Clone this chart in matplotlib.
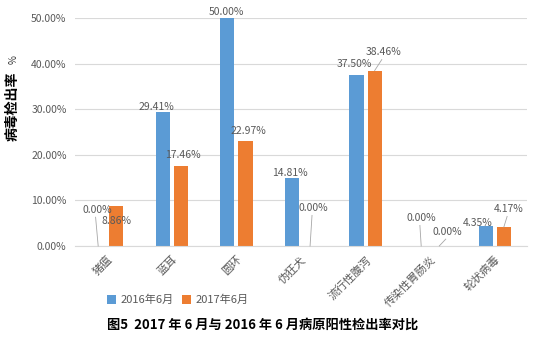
import numpy as np
import matplotlib
matplotlib.use('Agg')
import matplotlib.pyplot as plt
from matplotlib.ticker import FuncFormatter, MultipleLocator

plt.rcParams['font.family'] = ['Noto Sans CJK SC', 'DejaVu Sans']

# Positive detection rate (%) by pathogen
pathogens = ['猪瘟', '蓝耳', '圆环', '伪狂犬', '流行性腹泻', '传染性胃肠炎', '轮状病毒']
rate_2016 = [0.00, 29.41, 50.00, 14.81, 37.50, 0.00, 4.35]
rate_2017 = [8.86, 17.46, 22.97, 0.00, 38.46, 0.00, 4.17]
series_names = ['2016年6月', '2017年6月']

# label offsets (dx, dy) from the bar top, and whether a leader line is drawn
offsets_2016 = [(-0.02, 7.9, True), (-0.1, 1.0, False), (-0.02, 1.3, False),
                (-0.03, 1.2, False), (-0.04, 2.4, False), (0.0, 6.1, True),
                (-0.12, 0.6, False)]
offsets_2017 = [(0.0, -3.4, False), (0.03, 2.5, False), (0.04, 2.2, False),
                (0.05, 8.3, True), (0.13, 4.0, True), (0.12, 3.1, True),
                (0.07, 3.9, True)]

blue = '#5B9BD5'
orange = '#ED7D31'
gray = '#595959'

fig = plt.figure(figsize=(5.39, 3.44), dpi=100)
ax = fig.add_axes([0.139, 0.285, 0.839, 0.663])

x = np.arange(len(pathogens))
w = 0.22
shift = 0.14
ax.bar(x - shift, rate_2016, w, color=blue, label=series_names[0], zorder=2)
ax.bar(x + shift, rate_2017, w, color=orange, label=series_names[1], zorder=2)


def add_labels(xs, vals, offs):
    for xi, v, (dx, dy, leader) in zip(xs, vals, offs):
        tx, ty = xi + dx, v + dy
        ax.text(tx, ty, f'{v:.2f}%', ha='center', va='center', fontsize=7.5,
                color=gray, clip_on=False, zorder=3)
        if leader:
            ax.plot([tx - 0.02, xi], [ty - 1.6, v], color='#A6A6A6', lw=0.6,
                    clip_on=False, zorder=3)


add_labels(x - shift, rate_2016, offsets_2016)
add_labels(x + shift, rate_2017, offsets_2017)

ax.set_xlim(-0.5, len(pathogens) - 0.5)
ax.set_ylim(0, 50)
ax.yaxis.set_major_locator(MultipleLocator(10))
ax.yaxis.set_major_formatter(FuncFormatter(lambda v, p: f'{v:.2f}%'))
ax.grid(axis='y', color='#D9D9D9', lw=0.8, zorder=0)
ax.set_axisbelow(True)
for s in ['top', 'right', 'left']:
    ax.spines[s].set_visible(False)
ax.spines['bottom'].set_color('#D9D9D9')
ax.tick_params(axis='both', length=0, labelsize=7.5, colors=gray, pad=6)

ax.set_xticks(x)
ax.set_xticklabels(pathogens, rotation=45, ha='right', va='top',
                   rotation_mode='anchor', fontsize=8)

fig.text(0.024, 0.69, '病毒检出率', rotation=90, ha='center', va='center',
         fontsize=10, fontweight='bold')
fig.text(0.026, 0.826, '%', rotation=90, ha='center', va='center', fontsize=7,
         color='#333333')

fig.legend(loc='center', bbox_to_anchor=(0.33, 0.128), ncol=2, frameon=False,
           fontsize=8, handlelength=0.8, handleheight=0.8, handletextpad=0.4,
           columnspacing=0.8, labelcolor=gray)

fig.text(0.488, 0.055, '图5  2017 年 6 月与 2016 年 6 月病原阳性检出率对比',
         ha='center', va='center', fontsize=9.5, fontweight='bold')

fig.savefig('out.png', dpi=100)
